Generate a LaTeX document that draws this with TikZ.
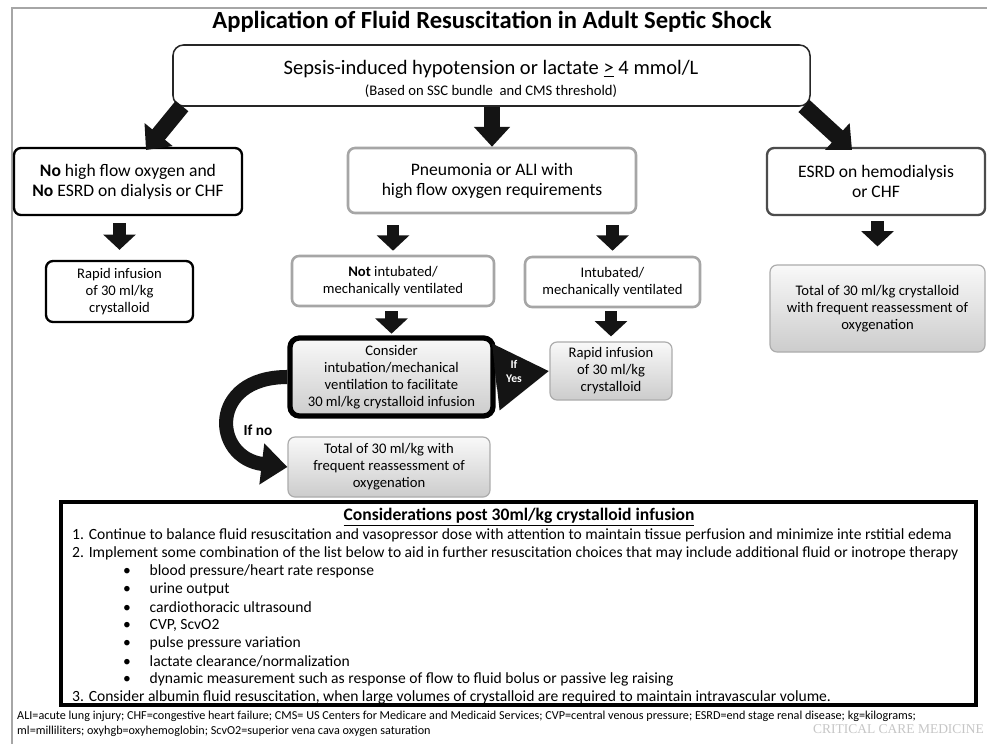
\documentclass[tikz,border=0pt]{standalone}
\usepackage{fontspec}
\setmainfont{Carlito}
\newfontfamily\wmfont{Liberation Serif}
\usetikzlibrary{arrows.meta, positioning}

\def\pxu{0.03cm}

\begin{document}
\begin{tikzpicture}[
        x=0.03cm, y=-0.03cm,
        every node/.style={align=center, inner sep=0pt},
        box/.style={draw=black, line width=2pt, rounded corners=6pt, fill=white},
        greybox/.style={draw=gray!70, line width=2.2pt, rounded corners=6pt, fill=white},
        shadebox/.style={draw=gray!65, line width=1pt, rounded corners=6pt, top color=gray!5, bottom color=gray!40},
        bigtext/.style={font=\fontsize{15}{17}\selectfont},
        smalltext/.style={font=\fontsize{12.5}{14.5}\selectfont},
        toparrow/.style={draw=black!92, line width=14pt, -{Triangle[width=30pt,length=17pt]}},
        fatarrow/.style={draw=black!92, line width=11pt, -{Triangle[width=27pt,length=13pt]}},
        consline/.style={anchor=west, font=\fontsize{13.3}{15}\selectfont}
    ]
        \useasboundingbox (0,0) rectangle (987,744);
        \fill[white] (0,0) rectangle (987,744);
        \draw[gray!70, line width=1pt] (12,744) -- (12,8) -- (987,8);

        % --- Title and entry ---
        \node[font=\bfseries\fontsize{21}{25}\selectfont] (title) at (492,22) {Application of Fluid Resuscitation in Adult Septic Shock};
        \node[draw=black!85, line width=1.3pt, rounded corners=9pt, fill=white, minimum width=637*\pxu, minimum height=61*\pxu] (top) at (491.5,75.5) {};
        \node[font=\fontsize{17.5}{20}\selectfont] (toptext) at (491,69) {Sepsis-induced hypotension or lactate \underline{>} 4 mmol/L};
        \node[font=\fontsize{12.5}{14}\selectfont] (topsub) at (491,91) {(Based on SSC bundle~ and CMS threshold)};

        % --- First row ---
        \node[box, bigtext, minimum width=228*\pxu, minimum height=67*\pxu] (nohigh) at (128,181.5) {\textbf{No} high flow oxygen and\\\textbf{No} ESRD on dialysis or CHF};
        \node[greybox, bigtext, minimum width=288*\pxu, minimum height=65*\pxu] (pneu) at (492,180.5) {Pneumonia or ALI with\\high flow oxygen requirements};
        \node[box, draw=black!70, bigtext, minimum width=218*\pxu, minimum height=67*\pxu] (esrd) at (876,181.5) {ESRD on hemodialysis\\or CHF};

        \coordinate (lstart) at (182,106);
        \coordinate (lend) at (146,150);
        \coordinate (rstart) at (804,106);
        \coordinate (rend) at (852,150);
        \draw[toparrow] (lstart) -- (lend);
        \draw[toparrow] (top.south -| pneu.north) -- (pneu.north);
        \draw[toparrow] (rstart) -- (rend);

        % --- Second row ---
        \node[box, smalltext, minimum width=147*\pxu, minimum height=61*\pxu] (rapidL) at (119.5,291.5) {Rapid infusion\\of 30 ml/kg\\crystalloid};
        \node[greybox, smalltext, minimum width=202*\pxu, minimum height=50*\pxu] (notint) at (393,281) {\textbf{Not} intubated/\\mechanically ventilated};
        \node[greybox, smalltext, minimum width=175*\pxu, minimum height=50*\pxu] (intub) at (612.5,282) {Intubated/\\mechanically ventilated};
        \node[shadebox, smalltext, minimum width=215*\pxu, minimum height=87*\pxu] (totalR) at (877.5,308.5) {Total of 30 ml/kg crystalloid\\with frequent reassessment of\\oxygenation};

        \draw[fatarrow, shorten <=0.21cm, shorten >=0.3cm] (rapidL.north |- nohigh.south) -- (rapidL.north);
        \draw[fatarrow, shorten <=0.33cm, shorten >=0.12cm] (notint.north |- pneu.south) -- (notint.north);
        \draw[fatarrow, shorten <=0.33cm, shorten >=0.15cm] (intub.north |- pneu.south) -- (intub.north);
        \draw[fatarrow, shorten <=0.15cm, shorten >=0.54cm] (totalR.north |- esrd.south) -- (totalR.north);

        % --- Third row ---
        \node[shadebox, draw=black, line width=4.5pt, rounded corners=8pt, smalltext, minimum width=203*\pxu, minimum height=78*\pxu] (consider) at (391.5,377) {Consider\\intubation/mechanical\\ventilation to facilitate\\30 ml/kg crystalloid infusion};
        \node[shadebox, smalltext, minimum width=122*\pxu, minimum height=58*\pxu] (rapidM) at (611,371) {Rapid infusion\\of 30 ml/kg\\crystalloid};
        \node[shadebox, smalltext, minimum width=202*\pxu, minimum height=60*\pxu] (totalM) at (389,467) {Total of 30 ml/kg with\\frequent reassessment of\\oxygenation};

        \draw[fatarrow, shorten <=0.12cm, shorten >=0.05cm] (consider.north |- notint.south) -- (consider.north);
        \draw[fatarrow, shorten <=0.09cm, shorten >=0.15cm] (rapidM.north |- intub.south) -- (rapidM.north);

        % If yes / if no
        \draw[draw=black!92, line width=20pt, -{Triangle[width=54pt,length=46pt]}] (consider.east) -- (rapidM.west);
        \node[text=white, font=\bfseries\fontsize{10}{12}\selectfont] (ifyes) at (514,371) {If\\Yes};
        \draw[draw=black!92, line width=12pt, -{Triangle[width=34pt,length=22pt]}] (consider.west) .. controls (208,377) and (212,458) .. (totalM.west);
        \node[font=\bfseries\fontsize{13}{15}\selectfont] (ifno) at (258,430) {If no};

        % --- Considerations ---
        \node[draw=black, line width=2.8pt, fill=white, minimum width=915*\pxu, minimum height=203*\pxu] (cons) at (518.5,603.5) {};
        \node[font=\bfseries\fontsize{15}{17}\selectfont] (constitle) at (519,517) {\underline{Considerations post 30ml/kg crystalloid infusion}};
        \node[consline] (c1) at (72,535) {1. Continue to balance fluid resuscitation and vasopressor dose with attention to maintain tissue perfusion and minimize inte rstitial edema};
        \node[consline] (c2) at (72,553) {2. Implement some combination of the list below to aid in further resuscitation choices that may include additional fluid or inotrope therapy};
        \node[consline] (b1) at (123,571) {•\hspace{16pt}blood pressure/heart rate response};
        \node[consline] (b2) at (123,589) {•\hspace{16pt}urine output};
        \node[consline] (b3) at (123,607) {•\hspace{16pt}cardiothoracic ultrasound};
        \node[consline] (b4) at (123,625) {•\hspace{16pt}CVP, ScvO2};
        \node[consline] (b5) at (123,643) {•\hspace{16pt}pulse pressure variation};
        \node[consline] (b6) at (123,661) {•\hspace{16pt}lactate clearance/normalization};
        \node[consline] (b7) at (123,679) {•\hspace{16pt}dynamic measurement such as response of flow to fluid bolus or passive leg raising};
        \node[consline] (c3) at (72,697) {3. Consider albumin fluid resuscitation, when large volumes of crystalloid are required to maintain intravascular volume.};

        % --- Footer ---
        \node[anchor=west, font=\fontsize{10.4}{11}\selectfont] (abbr1) at (17,716) {ALI=acute lung injury; CHF=congestive heart failure; CMS= US Centers for Medicare and Medicaid Services; CVP=central venous pressure; ESRD=end stage renal disease; kg=kilograms;};
        \node[anchor=west, font=\fontsize{10.4}{11}\selectfont] (abbr2) at (17,731) {ml=milliliters; oxyhgb=oxyhemoglobin; ScvO2=superior vena cava oxygen saturation};
        \node[anchor=west, text=gray!45, font=\wmfont\fontsize{11.5}{13}\selectfont] (mark) at (813,729) {CRITICAL CARE MEDICINE};
    \end{tikzpicture}
\end{document}
